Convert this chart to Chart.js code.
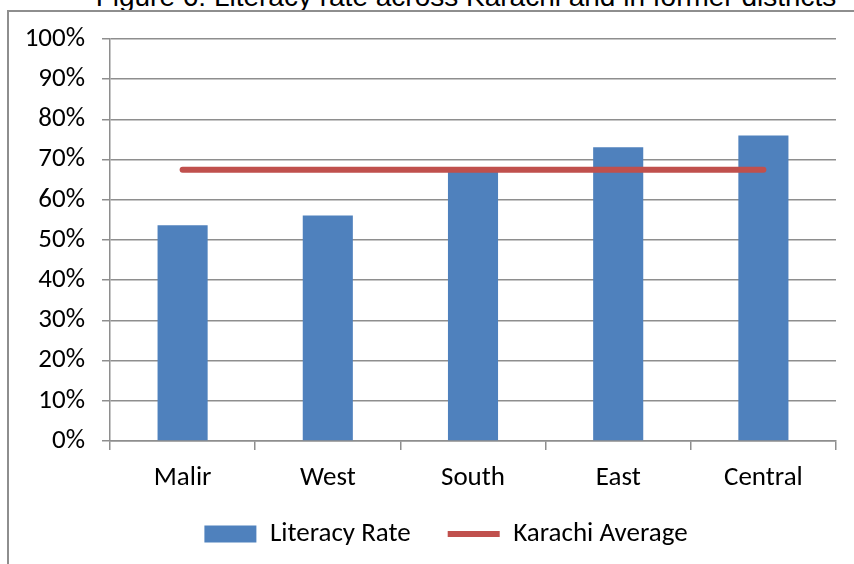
<!DOCTYPE html>
<html>
<head>
<meta charset="utf-8">
<script src="https://cdn.jsdelivr.net/npm/chart.js@4"></script>
<style>
  html, body { margin: 0; padding: 0; background: #fff; }
  body { width: 854px; height: 564px; position: relative; overflow: hidden; }
  #title {
    position: absolute; left: 0; top: -17px; width: 932px;
    text-align: center; white-space: nowrap;
    font: 28px "Liberation Sans", Arial, sans-serif; line-height: 28px; color: #000;
  }
  #frame {
    position: absolute; left: 7px; top: 10px; width: 900px; height: 600px;
    border: 2px solid #8e8e8e;
  }
  #chart { position: absolute; left: 0; top: 0; }
</style>
</head>
<body>
<div id="title">Figure 6: Literacy rate across Karachi and in former districts</div>
<div id="frame"></div>
<canvas id="chart" width="854" height="564"></canvas>
<script>
const districts = ['Malir', 'West', 'South', 'East', 'Central'];
const literacyRate = [53.7, 56.1, 67, 73.1, 76];
const karachiAverage = [67.5, 67.5, 67.5, 67.5, 67.5];
const yTicks = [0, 10, 20, 30, 40, 50, 60, 70, 80, 90, 100];

const GRID = '#8e8e8e';
Chart.defaults.font.family = 'Carlito, Lato, sans-serif';
Chart.defaults.font.size = 27;
Chart.defaults.color = '#000';

// nudge the legend: a bit right of centre and closer to the axis labels
const legendShift = {
    id: 'legendShift',
    afterLayout(chart) {
        const lg = chart.legend;
        lg.left += 28; lg.right += 28;
        lg.top -= 13.5; lg.bottom -= 13.5;
    }
};

const ctx = document.getElementById('chart').getContext('2d');
new Chart(ctx, {
    data: {
        labels: districts,
        datasets: [
            {
                type: 'bar',
                label: 'Literacy Rate',
                data: literacyRate,
                backgroundColor: '#4F81BD',
                borderWidth: 0,
                categoryPercentage: 1,
                barPercentage: 0.345,
                pointStyle: 'rect',
                order: 2
            },
            {
                type: 'line',
                label: 'Karachi Average',
                data: karachiAverage,
                borderColor: '#C0504D',
                backgroundColor: '#C0504D',
                borderWidth: 6,
                borderCapStyle: 'round',
                pointRadius: 0,
                pointStyle: 'line',
                order: 1
            }
        ]
    },
    plugins: [legendShift],
    options: {
        responsive: false,
        animation: false,
        events: [],
        layout: { padding: { left: 0, right: 18, top: 39, bottom: 0 } },
        plugins: {
            title: { display: false },
            tooltip: { enabled: false },
            legend: {
                position: 'bottom',
                maxHeight: 67,
                labels: {
                    usePointStyle: true,
                    pointStyleWidth: 52,
                    boxHeight: 17,
                    padding: 37,
                    sort: (a, b) => a.datasetIndex - b.datasetIndex
                }
            }
        },
        scales: {
            x: {
                offset: true,
                grid: { offset: true, drawOnChartArea: false, drawTicks: true, tickLength: 9, color: GRID, lineWidth: 1.5 },
                border: { color: GRID, width: 1.5 },
                ticks: { padding: 12, maxRotation: 0 },
                afterFit: s => { s.height = 56; }
            },
            y: {
                min: 0,
                max: 100,
                afterBuildTicks: s => { s.ticks = yTicks.map(v => ({ value: v })); },
                grid: { color: GRID, lineWidth: 1.5, tickLength: 8 },
                border: { color: GRID, width: 1.5 },
                ticks: { padding: 17, callback: v => v + '%' },
                afterFit: s => { s.width = 110; }
            }
        }
    }
});
</script>
</body>
</html>
